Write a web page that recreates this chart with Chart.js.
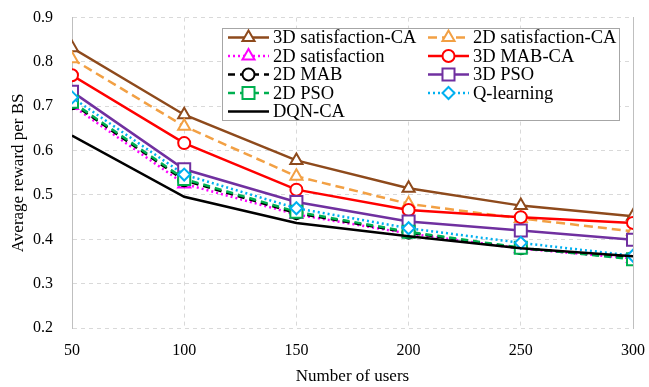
<!DOCTYPE html>
<html>
<head>
<meta charset="utf-8">
<script src="https://cdn.jsdelivr.net/npm/chart.js@4.4.1/dist/chart.umd.min.js"></script>
<style>
  html, body { margin: 0; padding: 0; background: #fff; }
  canvas { display: block; }
</style>
</head>
<body>
<canvas id="chart" width="649" height="387"></canvas>
<script>
// Number of users on the x axis
const users = [50, 100, 150, 200, 250, 300];

// Average reward per BS for each scheme
const sat3dCA   = [0.832, 0.681, 0.578, 0.515, 0.476, 0.452];
const sat2dCA   = [0.807, 0.655, 0.542, 0.480, 0.447, 0.418];
const sat2d     = [0.702, 0.525, 0.456, 0.413, 0.379, 0.357];
const mab3dCA   = [0.770, 0.617, 0.512, 0.466, 0.450, 0.437];
const mab2d     = [0.707, 0.533, 0.459, 0.415, 0.380, 0.358];
const pso3d     = [0.733, 0.558, 0.484, 0.440, 0.420, 0.399];
const pso2d     = [0.710, 0.536, 0.462, 0.417, 0.381, 0.355];
const qLearning = [0.720, 0.546, 0.470, 0.425, 0.392, 0.363];
const dqnCA     = [0.634, 0.496, 0.437, 0.407, 0.380, 0.362];

const seriesNames = ['3D satisfaction-CA', '2D satisfaction-CA', '2D satisfaction', '3D MAB-CA',
                     '2D MAB', '3D PSO', '2D PSO', 'Q-learning', 'DQN-CA'];
const seriesValues = [sat3dCA, sat2dCA, sat2d, mab3dCA, mab2d, pso3d, pso2d, qLearning, dqnCA];

// Axis range
const yMin = 0.2, yMax = 0.9, yStep = 0.1;

// Line / marker look of each scheme
const looks = [
  { color: '#8E4A1C', dash: [],     marker: 'triangle', r: 7 },
  { color: '#F2A044', dash: [9, 5], marker: 'triangle', r: 7 },
  { color: '#FF00FF', dash: [2, 3], marker: 'triangle', r: 7 },
  { color: '#FF0000', dash: [],     marker: 'circle',   r: 6 },
  { color: '#000000', dash: [7, 5], marker: 'circle',   r: 6 },
  { color: '#7030A0', dash: [],     marker: 'rect',     r: 8.5 },
  { color: '#00B050', dash: [7, 5], marker: 'rect',     r: 8.5 },
  { color: '#00B0F0', dash: [2, 3], marker: 'rectRot',  r: 6 },
  { color: '#000000', dash: [],     marker: false,      r: 0 }
];

const FONT = "'Liberation Serif', 'Times New Roman', serif";

const datasets = seriesNames.map((name, i) => ({
  label: name,
  data: users.map((u, k) => ({ x: u, y: seriesValues[i][k] })),
  borderColor: looks[i].color,
  borderWidth: 2.5,
  borderDash: looks[i].dash,
  pointStyle: looks[i].marker,
  pointRadius: looks[i].r,
  pointHoverRadius: looks[i].r,
  pointBorderColor: looks[i].color,
  pointBorderWidth: 2,
  pointBackgroundColor: '#ffffff',
  tension: 0,
  fill: false,
  order: seriesNames.length - i
}));

function drawMarker(ctx, style, x, y, r) {
  ctx.beginPath();
  if (style === 'circle') {
    ctx.arc(x, y, r, 0, Math.PI * 2);
  } else if (style === 'triangle') {
    ctx.moveTo(x, y - r);
    ctx.lineTo(x + r * Math.sin(2 * Math.PI / 3), y - r * Math.cos(2 * Math.PI / 3));
    ctx.lineTo(x + r * Math.sin(4 * Math.PI / 3), y - r * Math.cos(4 * Math.PI / 3));
    ctx.closePath();
  } else if (style === 'rect') {
    const s = r * Math.SQRT1_2;
    ctx.rect(x - s, y - s, 2 * s, 2 * s);
  } else if (style === 'rectRot') {
    ctx.moveTo(x, y - r); ctx.lineTo(x + r, y); ctx.lineTo(x, y + r); ctx.lineTo(x - r, y);
    ctx.closePath();
  }
  ctx.fillStyle = '#ffffff';
  ctx.fill();
  ctx.stroke();
}

// Two-column boxed legend placed inside the plot area
const boxedLegend = {
  id: 'boxedLegend',
  afterDraw(chart) {
    const ctx = chart.ctx;
    const L = 222, T = 28, W = 397, H = 92;
    ctx.save();
    ctx.fillStyle = '#ffffff';
    ctx.fillRect(L, T, W, H);
    ctx.strokeStyle = '#A6A6A6';
    ctx.lineWidth = 1;
    ctx.strokeRect(L + 0.5, T + 0.5, W, H);
    chart.data.datasets.forEach((ds, i) => {
      const col = i % 2, row = Math.floor(i / 2);
      const x0 = col ? 428 : 228;
      const y = 37.5 + row * 18.5;
      ctx.strokeStyle = ds.borderColor;
      ctx.lineWidth = 2.5;
      ctx.setLineDash(ds.borderDash);
      ctx.beginPath();
      ctx.moveTo(x0, y);
      ctx.lineTo(x0 + 41, y);
      ctx.stroke();
      ctx.setLineDash([]);
      if (ds.pointStyle) {
        ctx.lineWidth = 2;
        drawMarker(ctx, ds.pointStyle, x0 + 20.5, y, ds.pointRadius);
      }
      ctx.fillStyle = '#000000';
      ctx.font = "18.5px " + FONT;
      ctx.textBaseline = 'middle';
      ctx.textAlign = 'left';
      ctx.fillText(ds.label, x0 + 45, y + 1);
    });
    ctx.restore();
  }
};

new Chart(document.getElementById('chart'), {
  type: 'line',
  data: { datasets },
  options: {
    responsive: false,
    animation: false,
    devicePixelRatio: 1,
    layout: { autoPadding: false, padding: { left: 0, right: 0, top: 17.6, bottom: 0 } },
    plugins: { legend: { display: false }, tooltip: { enabled: false } },
    scales: {
      x: {
        type: 'linear',
        min: users[0],
        max: users[users.length - 1],
        afterFit: s => { s.height = 59; s.paddingLeft = 0; s.paddingRight = 0; },
        ticks: { stepSize: 50, color: '#000', font: { family: FONT, size: 16 }, padding: 13, maxRotation: 0 },
        grid: { color: '#D9D9D9', lineWidth: 1, drawTicks: false },
        border: { display: false, dash: [4, 4] },
        title: { display: true, text: 'Number of users', color: '#000',
                 font: { family: FONT, size: 17 }, padding: { top: 0, bottom: 0 } }
      },
      y: {
        min: yMin,
        max: yMax,
        afterFit: s => { s.width = 72; s.paddingTop = 0; s.paddingBottom = 0; },
        ticks: { stepSize: yStep, color: '#000', font: { family: FONT, size: 16 }, padding: 19,
                 callback: v => v.toFixed(1) },
        grid: { color: '#D9D9D9', lineWidth: 1, drawTicks: false },
        border: { display: true, color: '#BFBFBF', width: 1, dash: [4, 4] },
        title: { display: true, text: 'Average reward per BS', color: '#000',
                 font: { family: FONT, size: 17 }, padding: { top: 8, bottom: 0 } }
      },
      y2: {
        position: 'right',
        min: yMin,
        max: yMax,
        afterFit: s => { s.width = 16; s.paddingTop = 0; s.paddingBottom = 0; },
        ticks: { display: false },
        grid: { drawOnChartArea: false, drawTicks: false },
        border: { display: true, color: '#BFBFBF', width: 1 }
      }
    }
  },
  plugins: [boxedLegend]
});
</script>
</body>
</html>
